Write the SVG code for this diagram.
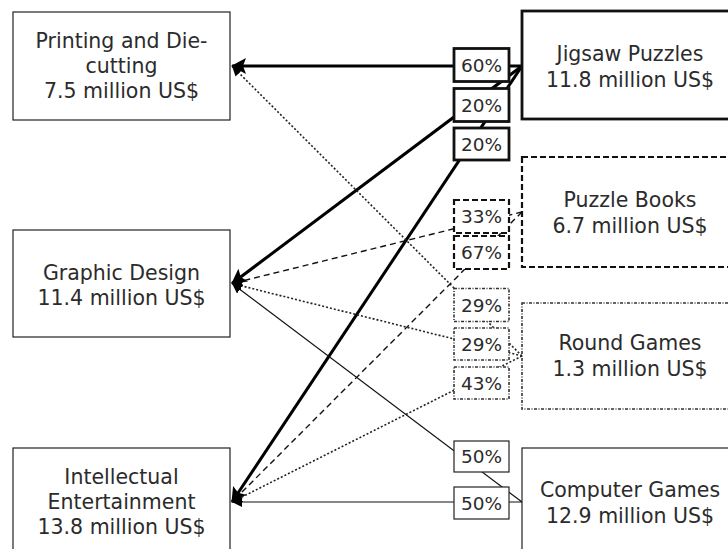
<svg xmlns="http://www.w3.org/2000/svg" width="728" height="549" viewBox="0 0 728 549">
<style>
  text { font-family: "DejaVu Sans", "Liberation Sans", sans-serif; fill: #2b2b2b; text-anchor: middle; }
  .nt { font-size: 20.5px; }
  .lt { font-size: 18.5px; }
  .box-left { fill: #fff; stroke: #222; stroke-width: 1.2; }
  .b-thick { fill: #fff; stroke: #111; stroke-width: 2.8; }
  .b-dash { fill: #fff; stroke: #111; stroke-width: 2.2; stroke-dasharray: 6 3; }
  .b-dot { fill: #fff; stroke: #333; stroke-width: 1.6; stroke-dasharray: 3 1.5 1 1.5; }
  .b-thin { fill: #fff; stroke: #222; stroke-width: 1.2; }
  .l-thick { fill: none; stroke: #000; stroke-width: 3; marker-end: url(#ahBig); }
  .l-dash { fill: none; stroke: #111; stroke-width: 1.4; stroke-dasharray: 6 4; marker-end: url(#ahSmall); }
  .l-dot { fill: none; stroke: #222; stroke-width: 1.6; stroke-dasharray: 2 2; marker-end: url(#ahSmall); }
  .l-thin { fill: none; stroke: #111; stroke-width: 1.2; marker-end: url(#ahSmall); }
</style>
<defs>
  <marker id="ahBig" markerUnits="userSpaceOnUse" markerWidth="18" markerHeight="18" refX="14" refY="8" orient="auto">
    <path d="M0,0 L15,8 L0,16 L3,8 z" fill="#000"/>
  </marker>
  <marker id="ahSmall" markerUnits="userSpaceOnUse" markerWidth="12" markerHeight="12" refX="10" refY="5" orient="auto">
    <path d="M0,0 L10,5 L0,10 z" fill="#000"/>
  </marker>
</defs>
<rect width="728" height="549" fill="#fff"/>

<g id="connectors">
  <path class="l-thick" d="M522,66 L232,66"/>
  <path class="l-thick" d="M522,66 L232,283.5"/>
  <path class="l-thick" d="M522,66 L232,502"/>
  <path class="l-dash" d="M522,212 L232,283.5"/>
  <path class="l-dash" d="M522,212 L232,502"/>
  <path class="l-dot" d="M522,356 L232,66"/>
  <path class="l-dot" d="M522,356 L232,283.5"/>
  <path class="l-dot" d="M522,356 L232,502"/>
  <path class="l-thin" d="M522,502 L232,283.5"/>
  <path class="l-thin" d="M522,502 L232,502"/>
</g>

<g id="node-printing">
  <rect class="box-left" x="13" y="12" width="217" height="108"/>
  <text class="nt" x="121.5" y="48">Printing and Die-</text>
  <text class="nt" x="121.5" y="73">cutting</text>
  <text class="nt" x="121.5" y="98">7.5 million US$</text>
</g>
<g id="node-graphic">
  <rect class="box-left" x="13" y="230" width="217" height="107"/>
  <text class="nt" x="121.5" y="280">Graphic Design</text>
  <text class="nt" x="121.5" y="305">11.4 million US$</text>
</g>
<g id="node-intellectual">
  <rect class="box-left" x="13" y="448" width="217" height="108"/>
  <text class="nt" x="121.5" y="484">Intellectual</text>
  <text class="nt" x="121.5" y="509">Entertainment</text>
  <text class="nt" x="121.5" y="534">13.8 million US$</text>
</g>

<g id="node-jigsaw">
  <rect class="b-thick" x="522" y="11" width="217" height="108"/>
  <text class="nt" x="630" y="61">Jigsaw Puzzles</text>
  <text class="nt" x="630" y="87">11.8 million US$</text>
</g>
<g id="node-puzzlebooks">
  <rect class="b-dash" x="522" y="157" width="217" height="110"/>
  <text class="nt" x="630" y="207">Puzzle Books</text>
  <text class="nt" x="630" y="233">6.7 million US$</text>
</g>
<g id="node-roundgames">
  <rect class="b-dot" x="522" y="303" width="217" height="106"/>
  <text class="nt" x="630" y="350">Round Games</text>
  <text class="nt" x="630" y="376">1.3 million US$</text>
</g>
<g id="node-computergames">
  <rect class="b-thin" x="522" y="448" width="217" height="108"/>
  <text class="nt" x="630" y="497">Computer Games</text>
  <text class="nt" x="630" y="523">12.9 million US$</text>
</g>

<g id="labels">
  <g id="label-j-p"><rect class="b-thick" x="454" y="48.5" width="55" height="33"/><text class="lt" x="481.5" y="72">60%</text></g>
  <g id="label-j-g"><rect class="b-thick" x="454" y="88.5" width="55" height="33"/><text class="lt" x="481.5" y="112">20%</text></g>
  <g id="label-j-i"><rect class="b-thick" x="454" y="128" width="55" height="32"/><text class="lt" x="481.5" y="151">20%</text></g>
  <g id="label-pb-g"><rect class="b-dash" x="454" y="200" width="55" height="33"/><text class="lt" x="481.5" y="223">33%</text></g>
  <g id="label-pb-i"><rect class="b-dash" x="454" y="236" width="55" height="33"/><text class="lt" x="481.5" y="259">67%</text></g>
  <g id="label-r-p"><rect class="b-dot" x="454" y="288.5" width="55" height="33"/><text class="lt" x="481.5" y="312">29%</text></g>
  <g id="label-r-g"><rect class="b-dot" x="454" y="328" width="55" height="32"/><text class="lt" x="481.5" y="351">29%</text></g>
  <g id="label-r-i"><rect class="b-dot" x="454" y="367" width="55" height="32"/><text class="lt" x="481.5" y="390">43%</text></g>
  <g id="label-c-g"><rect class="b-thin" x="454" y="441" width="55" height="31"/><text class="lt" x="481.5" y="463">50%</text></g>
  <g id="label-c-i"><rect class="b-thin" x="454" y="487" width="55" height="32"/><text class="lt" x="481.5" y="510">50%</text></g>
</g>
</svg>
